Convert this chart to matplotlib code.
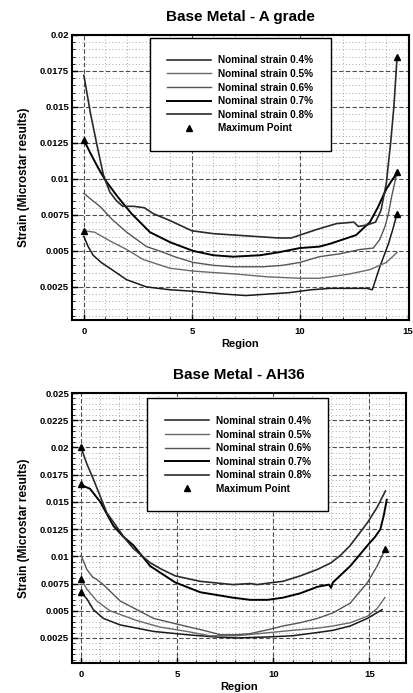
import numpy as np
import matplotlib
matplotlib.use('Agg')
import matplotlib.pyplot as plt
from matplotlib.ticker import MultipleLocator, FuncFormatter

plt.rcParams['font.family'] = ['Liberation Sans', 'DejaVu Sans']
plt.rcParams['font.weight'] = 'bold'

labels = ['Nominal strain 0.4%', 'Nominal strain 0.5%', 'Nominal strain 0.6%',
          'Nominal strain 0.7%', 'Nominal strain 0.8%']

# --- Base Metal - A grade ---
a_x_04 = [0, 0.2, 0.43, 0.8, 1.2, 1.98, 2.9, 4.0, 5.06, 6.5, 7.5, 8.5, 9.5, 10.5,
          11.4, 12.5, 13.1, 13.35, 13.7, 14.1, 14.3, 14.5]
a_y_04 = [0.0060, 0.0053, 0.0047, 0.0042, 0.0038, 0.0030, 0.0025, 0.0023, 0.0022,
          0.0020, 0.0019, 0.0020, 0.0021, 0.0023, 0.0024, 0.0024, 0.0024, 0.0023,
          0.0039, 0.0055, 0.0065, 0.0076]
a_x_05 = [0, 0.5, 1.2, 1.98, 2.75, 3.98, 5.06, 6.0, 7.0, 8.5, 10.0, 10.9, 11.4,
          12.3, 13.24, 14.0, 14.5]
a_y_05 = [0.0064, 0.0063, 0.0057, 0.0051, 0.0044, 0.0038, 0.0036, 0.0035, 0.0034,
          0.0032, 0.0031, 0.0031, 0.0032, 0.0034, 0.0037, 0.0042, 0.0049]
a_x_06 = [0, 0.4, 0.74, 1.3, 1.98, 2.9, 3.5, 4.2, 5.06, 6.0, 6.9, 8.3, 9.2, 10.0,
          10.9, 11.85, 12.78, 13.4, 13.7, 13.94, 14.1, 14.25, 14.4, 14.5]
a_y_06 = [0.0090, 0.0085, 0.0081, 0.0072, 0.0063, 0.0053, 0.0050, 0.0046, 0.0042,
          0.0040, 0.0039, 0.0039, 0.0040, 0.0042, 0.0046, 0.0048, 0.0051, 0.0052,
          0.0058, 0.0067, 0.0076, 0.0088, 0.0098, 0.0105]
a_x_07 = [0, 0.3, 0.65, 1.0, 1.57, 2.2, 3.06, 4.0, 5.06, 6.0, 6.9, 8.15, 9.0, 10.0,
          10.9, 11.4, 12.0, 12.6, 13.24, 13.6, 14.0, 14.3, 14.5]
a_y_07 = [0.0127, 0.0118, 0.0108, 0.0099, 0.00875, 0.0076, 0.0063, 0.0056, 0.0050,
          0.0047, 0.0046, 0.0047, 0.0049, 0.0052, 0.0053, 0.0055, 0.0058, 0.0061,
          0.0070, 0.0080, 0.0093, 0.0100, 0.0104]
a_x_08 = [0, 0.3, 0.6, 0.9, 1.2, 1.5, 1.8, 2.3, 2.8, 3.2, 4.0, 5.0, 6.0, 7.0, 8.0,
          9.0, 9.6, 10.2, 10.8, 11.7, 12.5, 12.7, 13.1, 13.5, 13.75, 14.0, 14.2,
          14.35, 14.5]
a_y_08 = [0.0172, 0.0146, 0.0124, 0.0103, 0.0091, 0.0085, 0.0081, 0.0081, 0.0080,
          0.0076, 0.0071, 0.0064, 0.0062, 0.0061, 0.0060, 0.0059, 0.0059, 0.0062,
          0.0065, 0.0069, 0.0070, 0.0067, 0.0068, 0.0070, 0.0078, 0.0097, 0.0125,
          0.0150, 0.0185]

# --- Base Metal - AH36 ---
b_x_04 = [0, 0.3, 0.64, 1.16, 2.03, 3.77, 5.5, 6.9, 8.1, 9.84, 11.0, 12.3, 13.1,
          14.0, 14.9, 15.66]
b_y_04 = [0.0067, 0.0061, 0.0051, 0.0043, 0.0037, 0.0031, 0.0028, 0.0026, 0.0025,
          0.0026, 0.0027, 0.0030, 0.0032, 0.0036, 0.0043, 0.0051]
b_x_05 = [0, 0.3, 0.82, 1.5, 2.9, 4.1, 5.5, 6.7, 8.1, 9.84, 11.0, 12.3, 13.1, 14.0,
          14.9, 15.4, 15.8]
b_y_05 = [0.0079, 0.0070, 0.0059, 0.0050, 0.0041, 0.0035, 0.0031, 0.0027, 0.0027,
          0.0030, 0.0032, 0.0034, 0.0036, 0.0039, 0.0045, 0.0052, 0.0062]
b_x_06 = [0, 0.3, 0.6, 0.8, 1.16, 2.03, 2.9, 3.77, 5.16, 6.37, 7.24, 8.1, 8.8, 9.84,
          10.5, 11.4, 12.3, 13.1, 14.0, 14.9, 15.4, 15.83]
b_y_06 = [0.0101, 0.0088, 0.0081, 0.0079, 0.0074, 0.0059, 0.0051, 0.0043, 0.0037,
          0.0032, 0.0028, 0.0028, 0.0029, 0.0033, 0.0036, 0.0039, 0.0043, 0.0048,
          0.0057, 0.0076, 0.0091, 0.0107]
b_x_07 = [0, 0.2, 0.47, 1.0, 1.68, 2.2, 2.73, 3.6, 4.9, 6.2, 7.9, 8.8, 9.7, 10.5,
          11.4, 12.3, 12.9, 13.0, 13.1, 14.0, 14.9, 15.3, 15.57, 15.75, 15.9]
b_y_07 = [0.0166, 0.0164, 0.0162, 0.0150, 0.0128, 0.0118, 0.0110, 0.0091, 0.0076,
          0.0067, 0.0062, 0.0060, 0.0060, 0.0062, 0.0066, 0.0072, 0.0074, 0.0071,
          0.0076, 0.0091, 0.0110, 0.0118, 0.0125, 0.0138, 0.0152]
b_x_08 = [0, 0.3, 0.64, 1.0, 1.34, 1.86, 2.3, 2.73, 3.6, 4.2, 4.9, 6.2, 7.9, 8.8,
          9.15, 10.0, 10.5, 11.4, 12.3, 13.0, 13.5, 14.0, 14.9, 15.4, 15.83]
b_y_08 = [0.0200, 0.0185, 0.0171, 0.0155, 0.0140, 0.0127, 0.0116, 0.0107, 0.0094,
          0.0088, 0.0082, 0.0077, 0.0074, 0.0075, 0.0074, 0.0076, 0.0077, 0.0082,
          0.0088, 0.0094, 0.0101, 0.0110, 0.0131, 0.0145, 0.0160]

line_colors = ['#1a1a1a', '#6a6a6a', '#555555', '#000000', '#2a2a2a']
line_widths = [1.1, 1.0, 1.0, 1.4, 1.2]


def draw_panel(ax, xs, ys, title, xlim, ylim):
    for x, y, lab, c, lw in zip(xs, ys, labels, line_colors, line_widths):
        ax.plot(x, y, color=c, lw=lw, label=lab, zorder=3)
    # maximum point of each curve
    mx = [x[int(np.argmax(y))] for x, y in zip(xs, ys)]
    my = [max(y) for y in ys]
    ax.plot(mx, my, linestyle='none', marker='^', color='black', ms=4,
            label='Maximum Point', zorder=4)

    ax.set_xlim(*xlim)
    ax.set_ylim(*ylim)
    ax.xaxis.set_major_locator(MultipleLocator(5))
    ax.xaxis.set_minor_locator(MultipleLocator(1))
    ax.yaxis.set_major_locator(MultipleLocator(0.0025))
    ax.yaxis.set_minor_locator(MultipleLocator(0.0005))
    ax.yaxis.set_major_formatter(FuncFormatter(lambda v, p: '%g' % round(v, 5)))

    ax.grid(which='major', color='0.3', linestyle=(0, (4, 2)), lw=0.8)
    ax.grid(which='minor', color='0.55', linestyle=(0, (1, 3)), lw=0.6)
    ax.tick_params(which='both', direction='in', labelsize=6.8)
    ax.tick_params(axis='x', pad=5)
    ax.tick_params(axis='y', pad=2)
    ax.tick_params(which='major', length=4, width=1)
    ax.tick_params(which='minor', length=2, width=0.6)
    for s in ax.spines.values():
        s.set_linewidth(1.5)
        s.set_color('black')

    ax.set_title(title, fontsize=11, fontweight='bold', pad=10)
    ax.set_xlabel('Region', fontsize=8, fontweight='bold', labelpad=2)
    ax.set_ylabel('Strain (Microstar results)', fontsize=8.5, fontweight='bold',
                  labelpad=7)


fig = plt.figure(figsize=(4.13, 6.93), dpi=100)
ax1 = fig.add_axes([0.1743, 0.5382, 0.816, 0.4113])
ax2 = fig.add_axes([0.1743, 0.0433, 0.8087, 0.3896])

draw_panel(ax1, [a_x_04, a_x_05, a_x_06, a_x_07, a_x_08],
           [a_y_04, a_y_05, a_y_06, a_y_07, a_y_08],
           'Base Metal - A grade', (-0.55, 15.05), (0.0002, 0.02))
draw_panel(ax2, [b_x_04, b_x_05, b_x_06, b_x_07, b_x_08],
           [b_y_04, b_y_05, b_y_06, b_y_07, b_y_08],
           'Base Metal - AH36', (-0.47, 16.9), (0.0002, 0.025))

for ax, anchor in [(ax1, (0.231, 0.99)), (ax2, (0.225, 0.98))]:
    leg = ax.legend(loc='upper left', bbox_to_anchor=anchor, borderaxespad=0,
                    frameon=True, fancybox=False, framealpha=1,
                    edgecolor='black', borderpad=1.75, labelspacing=0.36,
                    handlelength=4.4, handletextpad=0.7,
                    prop={'weight': 'bold', 'size': 7.2})
    leg.get_frame().set_linewidth(1.0)
    leg.set_zorder(10)

fig.savefig('out.png', dpi=100)
